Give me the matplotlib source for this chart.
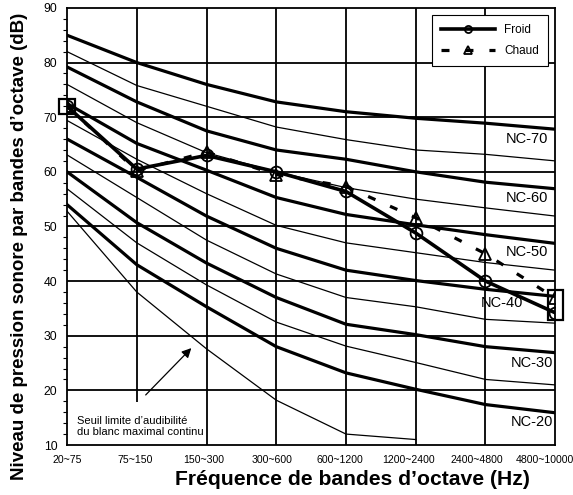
import matplotlib.pyplot as plt
import matplotlib.patches as patches
import matplotlib.transforms as mtransforms
import numpy as np
from matplotlib.ticker import MultipleLocator

plt.rcParams['font.family'] = ['Liberation Sans', 'DejaVu Sans']

bands = ['20~75', '75~150', '150~300', '300~600', '600~1200',
         '1200~2400', '2400~4800', '4800~10000']

# NC curves, dB per octave band
nc70 = [85, 80, 76, 72.8, 71, 69.8, 68.9, 67.8]
nc65 = [82, 75.8, 72, 68.2, 65.9, 64, 63.2, 62]
nc60 = [79.2, 72.8, 67.5, 64, 62.3, 60, 58.1, 56.9]
nc55 = [76, 69, 63.5, 60, 57.1, 55, 53.4, 51.9]
nc50 = [72.5, 65.2, 60.3, 55.3, 52.2, 50.3, 48.5, 46.9]
nc45 = [69.4, 62.3, 56, 50.2, 47, 45.2, 43.4, 42]
nc40 = [66, 59, 51.9, 46, 42, 40.1, 38.5, 37.2]
nc35 = [63.1, 55.3, 47.5, 41.3, 37, 35.3, 33, 32.3]
nc30 = [60, 50.7, 43.3, 37, 32.1, 30.2, 28, 26.9]
nc25 = [56.9, 47, 39.3, 32.5, 28.1, 25.1, 22, 21]
nc20 = [54, 43, 35.3, 28, 23.2, 20.2, 17.4, 15.9]
threshold = [52.8, 38, 27.6, 18.2, 12, 11]   # stops at 1200~2400

froid = [72, 60.5, 63, 60, 56.4, 48.8, 40, 34.2]
chaud = [72, 60.2, 63.6, 59.5, 57.3, 51.6, 45, 36.9]

x = np.arange(len(bands))

fig = plt.figure(figsize=(5.73, 4.95), dpi=100)
ax = fig.add_axes([0.117, 0.101, 0.852, 0.883])
ax.set_xlim(0, 7)
ax.set_ylim(10, 90)

# grid (the 75~150 line stops above the note box)
ax.hlines(np.arange(20, 90, 10), 0, 7, color='black', lw=1.3, zorder=1)
vline_bottom = [10, 17.9, 10, 10, 10, 10, 10, 10]
for i in range(1, 7):
    ax.vlines(x[i], vline_bottom[i], 90, color='black', lw=1.3, zorder=1)

curves = [nc70, nc65, nc60, nc55, nc50, nc45, nc40, nc35, nc30, nc25, nc20]
for k, c in enumerate(curves):
    thick = k % 2 == 0
    ax.plot(x, c, color='black', lw=2.3 if thick else 0.9, zorder=2)
ax.plot(x[:len(threshold)], threshold, color='black', lw=0.9, zorder=2)

# NC labels under the thick curves
labelled = [nc70, nc60, nc50, nc40, nc30, nc20]
names = ['NC-70', 'NC-60', 'NC-50', 'NC-40', 'NC-30', 'NC-20']
label_x = [6.6, 6.6, 6.6, 6.24, 6.66, 6.66]
for c, name, lx in zip(labelled, names, label_x):
    ly = np.interp(lx, x, c) - 2.2
    ax.text(lx, ly, name, fontsize=10.5, ha='center', va='center', zorder=3)

ax.plot(x, chaud, color='black', lw=2.3, ls=(0, (2.5, 5)), marker='^',
        ms=8.5, mfc='none', mec='black', mew=1.3, label='Chaud', zorder=4)
ax.plot(x, froid, color='black', lw=2.6, marker='o', ms=8.5, mfc='none',
        mec='black', mew=1.3, label='Froid', zorder=5)

# boxes around the first and last measured points
for i in (0, len(x) - 1):
    lo = min(froid[i], chaud[i]) - 1.4
    hi = max(froid[i], chaud[i]) + 1.4
    ax.add_patch(patches.Rectangle((x[i] - 0.11, lo), 0.22, hi - lo, fill=False,
                                   ec='black', lw=1.6, clip_on=False, zorder=6))

ax.annotate('', xy=(1.81, 28.1), xytext=(1.1, 18.8),
            arrowprops=dict(arrowstyle='-|>', color='black', lw=0.9,
                            mutation_scale=14), zorder=3)
ax.text(0.14, 13.4, 'Seuil limite d\u2019audibilit\u00e9\ndu blanc maximal continu',
        fontsize=8, ha='left', va='center', linespacing=1.1, zorder=3)

handles, labels = ax.get_legend_handles_labels()
leg = ax.legend(handles[::-1], labels[::-1], loc='upper right', fontsize=8.5,
                handlelength=4.5, borderpad=0.8, labelspacing=0.7,
                borderaxespad=0.6, fancybox=False, framealpha=1,
                edgecolor='black', markerscale=0.6)
leg.get_frame().set_linewidth(0.8)
leg.set_zorder(7)

ax.set_xticks(x)
ax.set_xticklabels(bands, fontsize=7.6)
ax.tick_params(axis='x', length=0, pad=7)
# band labels drift a little to the left towards the right end
for i, lab in enumerate(ax.get_xticklabels()):
    shift = mtransforms.ScaledTranslation(-1.5 * i / 100, 0, fig.dpi_scale_trans)
    lab.set_transform(lab.get_transform() + shift)
ax.set_yticks(np.arange(10, 91, 10))
ax.tick_params(axis='y', which='major', length=0, labelsize=8.8, pad=7)
ax.yaxis.set_minor_locator(MultipleLocator(2))
ax.tick_params(axis='y', which='minor', length=3, width=0.8, direction='out')

for s in ax.spines.values():
    s.set_linewidth(1.3)

ax.set_xlabel('Fr\u00e9quence de bandes d\u2019octave (Hz)', fontsize=15.2,
              fontweight='bold')
ax.xaxis.set_label_coords(0.584, -0.057)
ax.set_ylabel('Niveau de pression sonore par bandes d\u2019octave (dB)',
              fontsize=13.5, fontweight='bold')
ax.yaxis.set_label_coords(-0.08, 0.455)

fig.savefig('out.png', dpi=100)
